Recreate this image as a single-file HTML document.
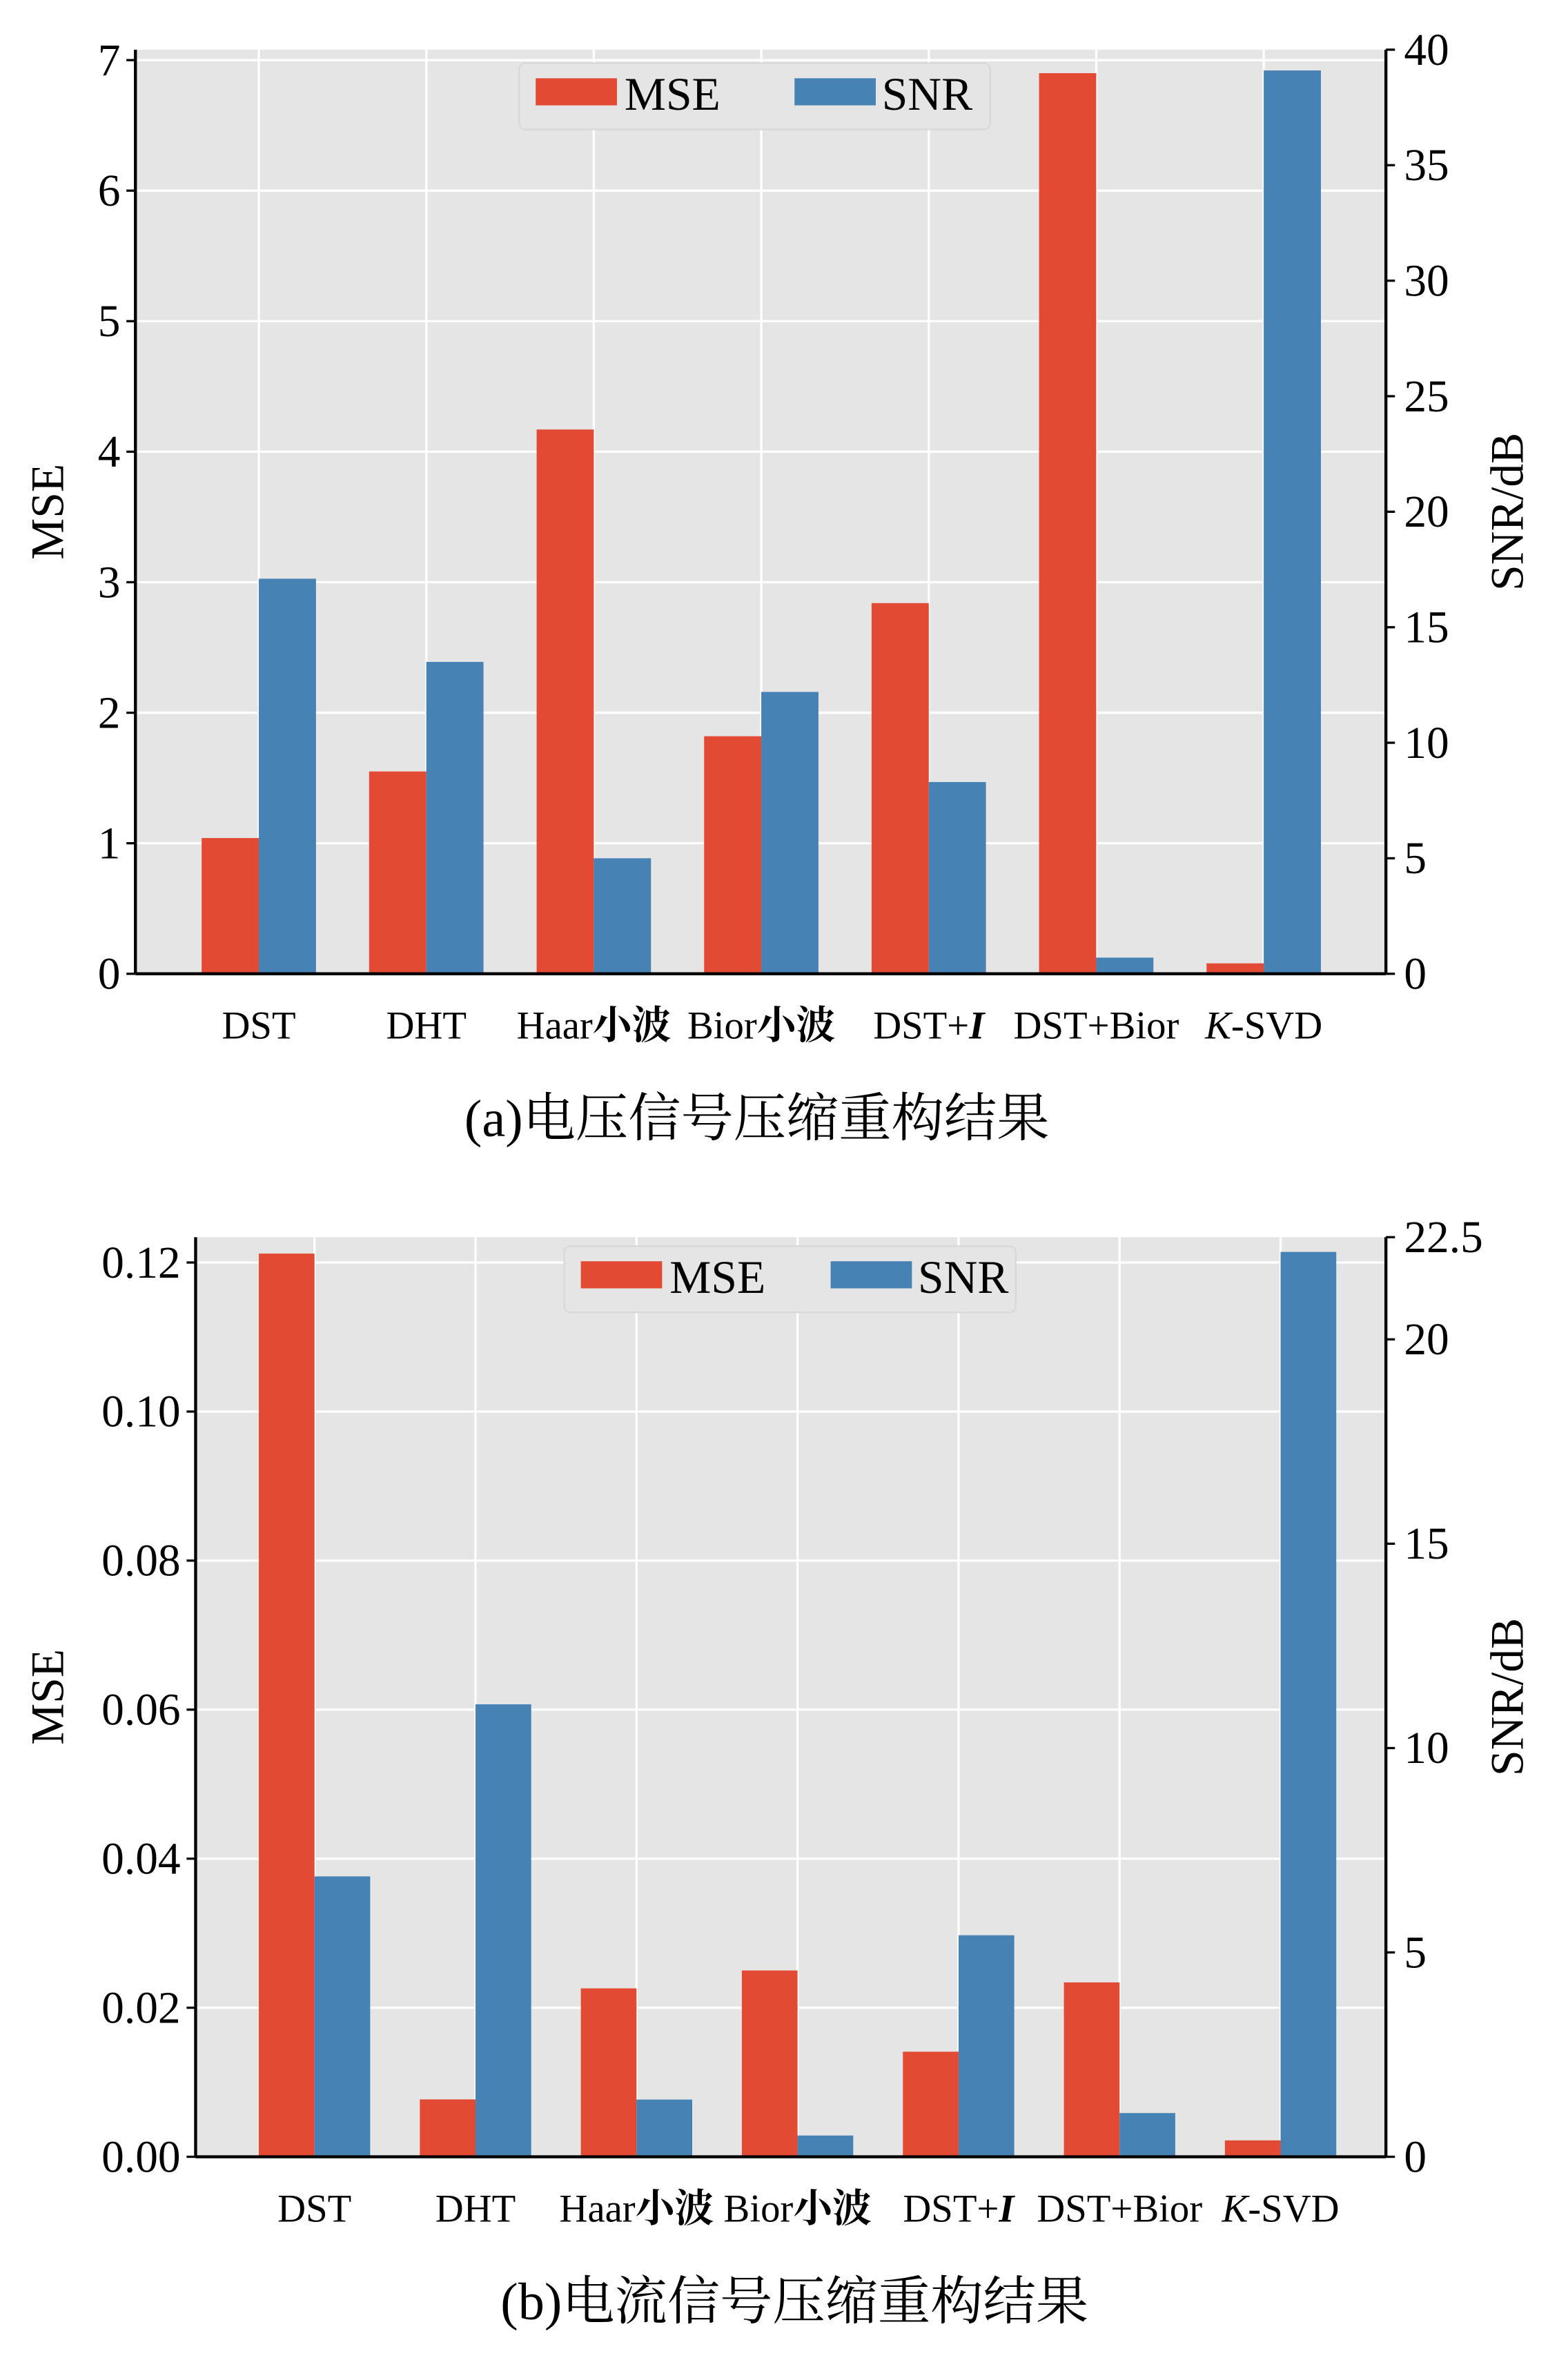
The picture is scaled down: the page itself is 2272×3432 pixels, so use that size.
<!DOCTYPE html>
<html><head><meta charset="utf-8"><style>
html,body{margin:0;padding:0;background:#fff}
svg{display:block}
text{font-family:"Liberation Serif","Noto Serif CJK SC",serif;fill:#000}
</style></head><body>
<svg id="s" width="2272" height="3432" viewBox="0 0 1042 1574" xmlns="http://www.w3.org/2000/svg"></svg>
<script>
const categoriesA = ["DST","DHT","Haar小波","Bior小波","DST+I","DST+Bior","K-SVD"];
const mseA = [1.04,1.55,4.17,1.82,2.84,6.9,0.08];
const snrA = [17.1,13.5,5.0,12.2,8.3,0.7,39.1];
const mseTicksA = [0,1,2,3,4,5,6,7];
const snrTicksA = [0,5,10,15,20,25,30,35,40];
const categoriesB = ["DST","DHT","Haar小波","Bior小波","DST+I","DST+Bior","K-SVD"];
const mseB = [0.1212,0.0077,0.0226,0.025,0.0141,0.0234,0.0022];
const snrB = [6.86,11.07,1.4,0.52,5.42,1.07,22.14];
const mseTicksB = [0,0.02,0.04,0.06,0.08,0.10,0.12];
const snrTicksB = [0,5,10,15,20,22.5];

const NS="http://www.w3.org/2000/svg";
const svg=document.getElementById('s');
function mk(tag,attrs,parent){const e=document.createElementNS(NS,tag);for(const k in attrs)e.setAttribute(k,attrs[k]);(parent||svg).appendChild(e);return e;}

function chart(cfg){
  const g=mk('g',{});
  
  
  const L=cfg.left,R=cfg.right,T=cfg.top,B=cfg.bottom;
  const yL=v=>B-(v/cfg.lmax)*(B-T);
  const yR=v=>B-(v/cfg.rmax)*(B-T);
  const bg=mk('rect',{x:L,y:T,width:R-L,height:B-T,fill:'#e5e5e5'},g);
  
  
  const cx=i=>cfg.first+cfg.step*i;
  cfg.mseTicks.forEach(t=>{
    const y=yL(t);
    const gl=mk('line',{x1:L,x2:R,y1:y,y2:y,stroke:'#fff','stroke-width':1.5},g);
    
    
    mk('line',{x1:L-6,x2:L,y1:y,y2:y,stroke:'#000','stroke-width':1.5},g);
    const tx=mk('text',{x:L-10,y:y+10,'text-anchor':'end','font-size':30},g);
    tx.textContent=cfg.fmtL(t);
    
    
  });
  cfg.cats.forEach((c,i)=>{
    const gl=mk('line',{x1:cx(i),x2:cx(i),y1:T,y2:B,stroke:'#fff','stroke-width':1.5},g);
    
    
  });
  cfg.cats.forEach((c,i)=>{
    const r1=mk('rect',{x:cx(i)-cfg.bw,y:yL(cfg.mse[i]),width:cfg.bw,height:B-yL(cfg.mse[i]),fill:'#e24a33'},g);
    
    
    const r2=mk('rect',{x:cx(i),y:yR(cfg.snr[i]),width:cfg.bw,height:B-yR(cfg.snr[i]),fill:'#4682b4'},g);
    
    
    const tx=mk('text',{x:cx(i),y:B+43,'text-anchor':'middle','font-size':26},g);
    
    
    if(c==="DST+I"){tx.innerHTML='DST+<tspan font-style="italic" font-weight="bold">I</tspan>';}
    else if(c==="K-SVD"){tx.innerHTML='<tspan font-style="italic">K</tspan>-SVD';}
    else if(c.indexOf('小波')>0){tx.innerHTML=c.replace('小波','')+'<tspan font-weight="bold">小波</tspan>';}
    else tx.textContent=c;
  });
  cfg.snrTicks.forEach(t=>{
    const y=yR(t);
    mk('line',{x1:R,x2:R+6,y1:y,y2:y,stroke:'#000','stroke-width':1.5},g);
    const tx=mk('text',{x:R+12,y:y+10,'font-size':30},g);
    tx.textContent=String(t);
    
    
  });
  mk('line',{x1:L,x2:R,y1:B,y2:B,stroke:'#000','stroke-width':2},g);
  mk('line',{x1:L,x2:L,y1:T,y2:B,stroke:'#000','stroke-width':2},g);
  mk('line',{x1:R,x2:R,y1:T,y2:B,stroke:'#000','stroke-width':2},g);
  const yl=mk('text',{transform:`translate(42,${(T+B)/2}) rotate(-90)`,'text-anchor':'middle','font-size':31},g);
  yl.textContent='MSE';
  
  
  const yr=mk('text',{transform:`translate(1012,${(T+B)/2}) rotate(-90)`,'text-anchor':'middle','font-size':31},g);
  yr.textContent='SNR/dB';
  
  
  const lg=mk('g',{},g);
  
  
  const lx=cfg.legX,ly=cfg.legY;
  mk('rect',{x:lx,y:ly,width:cfg.legW,height:44,rx:4,fill:'#e5e5e5',stroke:'#d8d8d8'},lg);
  mk('rect',{x:lx+11,y:ly+10,width:54,height:18,fill:'#e24a33'},lg);
  const t1=mk('text',{x:lx+70,y:ly+31,'font-size':31},lg);t1.textContent='MSE';
  
  
  mk('rect',{x:lx+cfg.legG,y:ly+10,width:54,height:18,fill:'#4682b4'},lg);
  const t2=mk('text',{x:lx+cfg.legG+58,y:ly+31,'font-size':31},lg);t2.textContent='SNR';
  
  
  const cap=mk('text',{x:cfg.capX,y:cfg.capY,'text-anchor':'middle','font-size':35},g);
  cap.textContent=cfg.caption;
  
  
}
chart({name:'chart-voltage',left:90,right:921,top:33,bottom:647,lmax:7.08,rmax:40,first:172,step:111.3,cats:categoriesA,mse:mseA,snr:snrA,mseTicks:mseTicksA,snrTicks:snrTicksA,fmtL:t=>String(t),bw:38,legX:345,legY:42,legW:313,legG:183,capX:503,capY:755,caption:'(a)电压信号压缩重构结果'});
chart({name:'chart-current',left:130,right:921,top:822,bottom:1433,lmax:0.1234,rmax:22.5,first:209,step:107,cats:categoriesB,mse:mseB,snr:snrB,mseTicks:mseTicksB,snrTicks:snrTicksB,fmtL:t=>t.toFixed(2),bw:37,legX:375,legY:828,legW:300,legG:177,capX:528,capY:1541,caption:'(b)电流信号压缩重构结果'});
</script>
</body></html>
